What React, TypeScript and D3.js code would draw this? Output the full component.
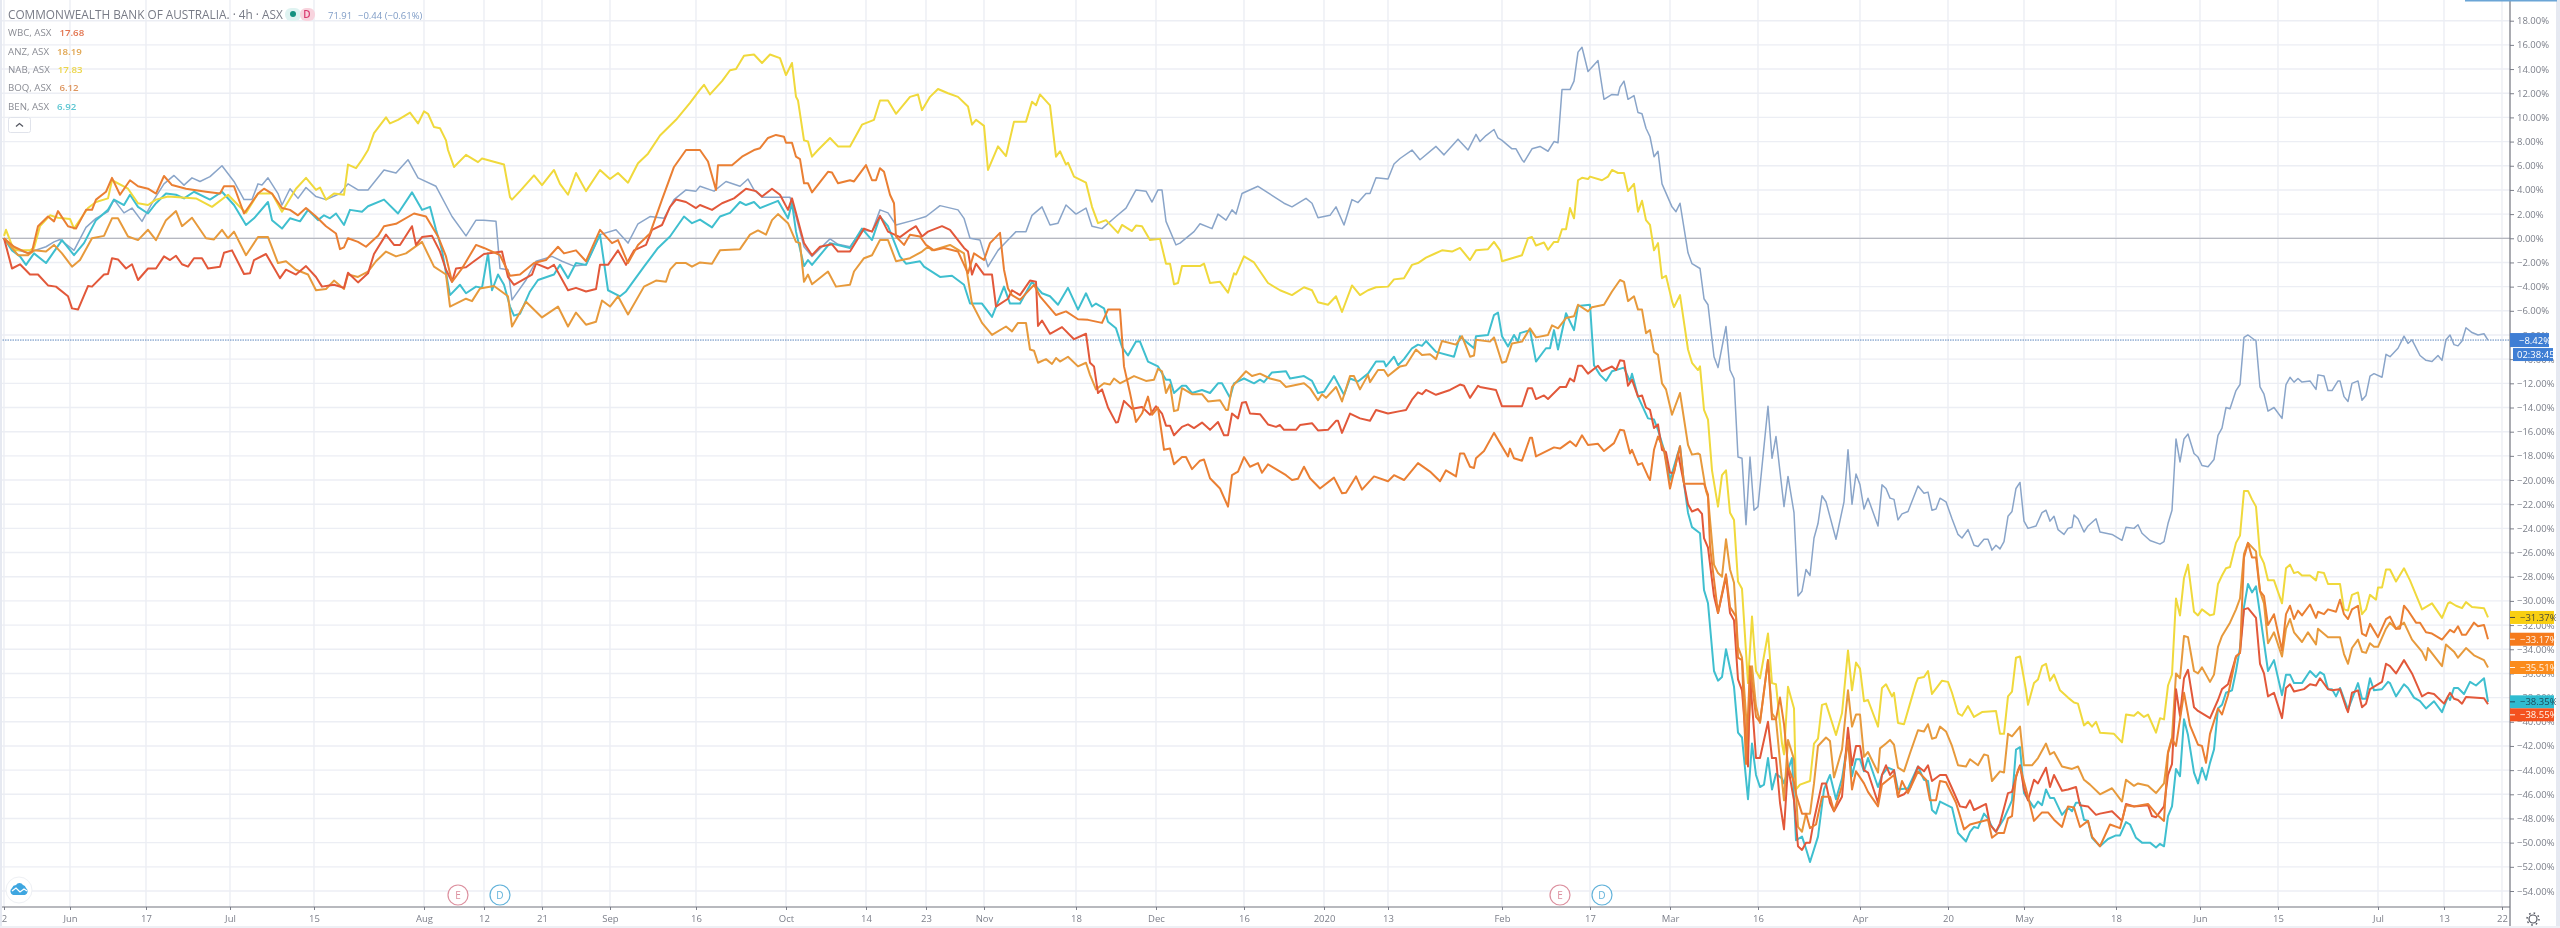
import React, { useRef, useEffect } from "react";
import * as d3 from "d3";

// every point is [half-bar number, % change since start]
const cba = [[2,0],[9,-1],[14,-1.2],[23,-.7],[27,-.3],[30,-.1],[37,-1],[43,.9],[48,1.65],[54,2.2],[57,3.2],[62,2.1],[66,2.5],[71,1.4],[77,3.2],[82,4.5],[87,5.2],[92,4.4],[96,5],[100,4.7],[105,5.1],[111,6],[117,4.7],[122,3.2],[126,3.2],[129,4.5],[131,4.4],[134,5],[139,3.7],[141,2.75],[145,4.1],[149,3.3],[153,4.2],[158,3.45],[163,3.2],[170,3.7],[174,4.5],[179,4],[184,4],[192,5.65],[198,5.4],[204,6.5],[209,5],[218,4.3],[226,1.8],[233,.2],[238,1.5],[242,1.5],[248,1.4],[250,-2.5],[254,-2.6],[256,-5.1],[263,-3.45],[268,-1.9],[276,-1.5],[281,-1.9],[287,-2.3],[293,-2.2],[300,.3],[308,.7],[314,-.4],[319,1.2],[325,1.8],[332,1.65],[337,3.2],[343,4],[348,3.9],[350,4.3],[357,3.9],[363,4.7],[370,4.3],[374,4.9],[377,4],[381,3.4],[388,3.4],[395,3.4],[398,1.8],[402,-.7],[406,-1.5],[415,-.05],[419,-.5],[425,-.7],[431,.7],[436,.55],[440,2.35],[444,2.1],[448,1.1],[457,1.5],[463,1.8],[470,2.7],[479,2.35],[482,1.65],[485,0],[490,-.15],[494,-2.35],[499,-1],[503,-.3],[508,.55],[513,.55],[516,1.9],[521,2.6],[525,1.1],[529,1.25],[533,2.75],[538,2],[543,2.5],[546,1],[551,.8],[558,1.8],[563,2.5],[568,4],[573,3.9],[576,3],[579,4],[581,4],[583,1.4],[588,-.55],[590,-.4],[597,.55],[600,1.2],[606,.8],[609,2],[613,1.5],[616,2.35],[618,2],[621,3.7],[629,4.3],[642,2.9],[646,2.6],[653,3.3],[656,2.9],[659,1.7],[665,1.9],[668,2.6],[672,1.1],[676,3.2],[679,2.95],[683,3.7],[685,3.7],[688,5],[694,4.9],[697,6.15],[700,6.6],[706,7.3],[710,6.5],[718,7.6],[722,6.9],[729,8.2],[734,7.3],[738,8.6],[740,8],[743,8.5],[747,9],[749,8.3],[751,8.1],[756,7.4],[758,7.4],[761,6.5],[762,6.3],[766,7.4],[770,7.6],[774,7.2],[777,8],[779,7.9],[781,12.3],[785,12.3],[787,13],[789,15.4],[791,15.8],[794,13.8],[799,14.7],[802,11.5],[806,11.9],[809,11.85],[810,12.5],[812,13],[814,11.5],[817,11.8],[819,10.4],[821,10.3],[823,9.1],[825,8.4],[827,6.75],[829,7.2],[831,4.5],[836,2.6],[838,2.2],[840,2.9],[844,-1.2],[846,-2.1],[850,-2.5],[852,-5],[854,-5.5],[857,-9.8],[859,-10.7],[863,-7.3],[865,-10.9],[867,-11.6],[869,-18.1],[871,-18.2],[873,-23.7],[875,-18.1],[877,-22.5],[879,-22.2],[884,-13.9],[886,-18.2],[888,-16.4],[892,-22.2],[894,-19.7],[897,-22.7],[899,-29.6],[901,-29.2],[903,-27.4],[905,-27.9],[907,-24.8],[909,-23.6],[911,-21.3],[913,-21.8],[918,-24.9],[922,-21.8],[924,-17.5],[926,-22],[928,-19.5],[930,-20.4],[932,-22.4],[934,-21.5],[939,-23.8],[941,-20.4],[943,-20.7],[945,-21.5],[947,-21.6],[949,-23.3],[951,-22.8],[954,-22.6],[959,-20.5],[962,-21.1],[964,-21],[966,-22.5],[968,-22.4],[970,-21.5],[973,-21.8],[976,-23.2],[979,-24.5],[981,-24.8],[984,-24.1],[987,-25.4],[989,-25.5],[992,-24.9],[994,-24.9],[996,-25.8],[998,-25.4],[1000,-25.7],[1002,-25.1],[1004,-23],[1006,-22.6],[1008,-20.7],[1010,-20.2],[1012,-23.4],[1014,-24],[1018,-23.8],[1021,-22.7],[1023,-22.5],[1025,-23.4],[1027,-23],[1029,-24.1],[1032,-24.5],[1034,-24],[1036,-23.9],[1037,-22.9],[1039,-23.2],[1042,-24.3],[1044,-23.8],[1048,-23.2],[1050,-24.3],[1056,-24.5],[1061,-25],[1063,-23.9],[1067,-24],[1069,-23.7],[1071,-24.4],[1075,-25],[1080,-25.3],[1082,-25.1],[1084,-23.6],[1086,-22.5],[1088,-16.6],[1090,-18.5],[1092,-16.6],[1094,-16.2],[1097,-17.8],[1099,-18.1],[1101,-18.8],[1104,-18.9],[1107,-18.3],[1109,-16.3],[1111,-15.7],[1113,-14],[1115,-14.1],[1118,-12.6],[1120,-12.1],[1122,-8.2],[1124,-8],[1128,-8.5],[1130,-12.3],[1132,-12.9],[1134,-14.3],[1137,-14],[1141,-14.9],[1143,-12.1],[1145,-11.5],[1147,-11.9],[1149,-11.6],[1151,-11.9],[1155,-11.8],[1158,-12.5],[1159,-11.3],[1162,-11.4],[1164,-12.6],[1166,-12.6],[1169,-11.8],[1170,-11.8],[1172,-13.1],[1174,-13.5],[1176,-12],[1179,-11.8],[1181,-13.4],[1183,-13],[1185,-11.4],[1187,-11.2],[1191,-11.5],[1193,-9.6],[1195,-9.8],[1199,-9.1],[1202,-8.1],[1204,-8.7],[1206,-8.4],[1210,-9.7],[1213,-10.1],[1216,-10.2],[1219,-9.7],[1221,-10.1],[1223,-8.4],[1225,-8],[1227,-8.8],[1229,-8.9],[1231,-8.5],[1233,-7.4],[1236,-7.8],[1239,-8],[1242,-7.9],[1244,-8.42]];

const wbc = [[2,0],[6,-2.5],[10,-2.15],[15,-3],[19,-3],[24,-3.9],[28,-4],[34,-4.8],[36,-5.8],[39,-5.9],[44,-3.95],[46,-4],[52,-3],[54,-2.95],[56,-1.65],[59,-1.75],[63,-2.5],[66,-2.15],[69,-3.45],[74,-2.5],[78,-2.5],[82,-1.5],[85,-1.8],[88,-1.45],[91,-2.15],[94,-2.35],[97,-1.65],[101,-1.65],[104,-2.5],[110,-2.35],[112,-1.2],[116,-1],[122,-2.95],[125,-2.9],[127,-1.8],[133,-1.3],[140,-3.3],[143,-2.6],[148,-3],[153,-2.3],[158,-3.2],[161,-4],[167,-3.85],[172,-4.1],[174,-2.85],[179,-3.65],[184,-2.9],[187,-1.3],[193,.3],[197,-.55],[200,-.55],[206,1],[208,-.55],[211,.1],[216,.2],[220,-1.1],[223,-2.6],[226,-3.6],[228,-2.5],[233,-2.4],[237,-1.9],[242,-1.3],[251,-1.1],[254,-3.2],[257,-3.85],[266,-3],[268,-2.1],[274,-2.5],[277,-2.2],[284,-4.3],[288,-4.1],[293,-4.4],[298,-4.2],[300,-2.2],[304,-2.2],[309,-1],[313,-2.2],[317,-1],[323,-.55],[326,.7],[331,1.1],[335,2.6],[338,3.2],[343,3],[348,2.5],[350,2.75],[356,2.35],[361,2.9],[367,3.3],[373,4.1],[378,3.9],[381,3.45],[386,4.1],[390,3.6],[394,2.35],[396,3.3],[398,2.1],[402,-.4],[406,-1.4],[410,-.7],[416,-.5],[419,-1.1],[425,-1.1],[432,.8],[436,.55],[440,1.85],[444,.55],[450,.1],[455,.7],[458,1],[461,.15],[464,.55],[471,1],[475,.7],[482,-.8],[484,-1.1],[486,-3],[488,-2.1],[492,-3],[496,-3],[498,-5.65],[504,-5],[506,-4.3],[510,-4.7],[515,-3.5],[518,-3.6],[519,-7.25],[521,-6.8],[525,-7.9],[531,-7.35],[537,-8.35],[543,-7.9],[545,-10.3],[547,-10.6],[549,-12.8],[551,-12.5],[554,-14],[558,-15.25],[559,-15.2],[562,-13.45],[566,-14.1],[571,-13.95],[575,-14.6],[578,-13.9],[581,-14.5],[583,-15.5],[585,-15.5],[587,-16.3],[591,-15.6],[594,-15.4],[597,-15.7],[601,-15.25],[605,-15.85],[609,-15.2],[612,-16.3],[614,-16.3],[616,-14.5],[619,-14.9],[621,-13.6],[623,-13.55],[625,-14.5],[630,-14.55],[634,-15.4],[638,-15.6],[640,-15.45],[642,-15.85],[648,-15.85],[650,-15.45],[656,-15.3],[659,-15.9],[664,-15.85],[668,-15.1],[669,-15.1],[671,-16.1],[675,-14.5],[680,-14.9],[685,-15.1],[688,-14.2],[694,-14.5],[700,-14.3],[703,-14.2],[706,-13.35],[709,-12.75],[711,-12.9],[713,-12.55],[718,-12.95],[725,-12.55],[730,-12.1],[732,-12.2],[735,-13.2],[739,-12.2],[740,-12.3],[748,-12.55],[751,-13.9],[761,-13.9],[764,-12.4],[766,-12.4],[768,-13.3],[772,-13],[774,-13.3],[777,-12.8],[780,-12.3],[783,-12.3],[785,-11.6],[787,-11.85],[789,-10.55],[791,-10.55],[794,-11.2],[799,-10.55],[801,-11],[806,-10.6],[808,-10.9],[810,-10.1],[812,-10.15],[814,-12.2],[816,-11.7],[819,-13.1],[821,-13],[823,-14],[825,-14.2],[827,-15.7],[829,-15.4],[831,-17.5],[833,-17.7],[835,-19.4],[837,-19.4],[839,-17.8],[842,-20.3],[844,-22],[846,-22.6],[849,-22.4],[851,-22.8],[852,-24.8],[854,-25.6],[857,-29.6],[859,-31],[863,-28],[865,-31],[867,-31.6],[869,-36.5],[871,-37.4],[874,-43.7],[875,-36.2],[878,-43],[880,-43],[884,-40],[886,-43],[888,-43],[890,-46.7],[892,-48.9],[894,-43.7],[897,-46.5],[899,-50.3],[901,-50.6],[903,-50],[905,-50],[907,-48.1],[911,-45.1],[913,-45.1],[915,-46.7],[917,-47.4],[921,-46.2],[924,-40.5],[926,-43.6],[928,-42],[930,-42],[932,-44],[934,-44.2],[939,-46.7],[941,-44.4],[943,-43.6],[945,-44.4],[947,-44],[949,-46.2],[952,-46],[955,-45.5],[959,-43.7],[962,-44.1],[964,-43.6],[966,-44.9],[970,-44.4],[973,-44.4],[976,-45.5],[980,-47],[983,-47.1],[985,-46.5],[987,-47.3],[993,-46.8],[995,-48.5],[998,-49.1],[1000,-48.4],[1004,-45.9],[1006,-45.8],[1009,-44],[1010,-43.6],[1012,-45.6],[1014,-46.5],[1017,-44.8],[1019,-45.1],[1023,-43.8],[1025,-45.4],[1027,-44.4],[1031,-45.7],[1034,-45.6],[1038,-45.4],[1040,-46.9],[1044,-47],[1048,-47.7],[1050,-47.6],[1056,-47.4],[1061,-48.2],[1063,-46.8],[1067,-47],[1074,-46.9],[1076,-47.8],[1078,-47.9],[1082,-47],[1084,-44.4],[1086,-43.5],[1088,-37.3],[1090,-39.5],[1092,-36.4],[1094,-35.7],[1097,-38.8],[1099,-39.1],[1105,-39.7],[1109,-38.2],[1111,-37.3],[1114,-36.9],[1118,-34.6],[1120,-34.3],[1122,-30.7],[1124,-30.6],[1128,-31.4],[1130,-35.2],[1132,-36],[1134,-37.9],[1137,-37.6],[1141,-39.7],[1143,-37.2],[1145,-36.9],[1147,-37.5],[1152,-37.3],[1155,-36.9],[1158,-37],[1160,-36.4],[1164,-37.3],[1166,-37.4],[1170,-37.3],[1173,-38.8],[1174,-39.2],[1176,-37.6],[1179,-37.4],[1181,-38.8],[1183,-38.5],[1185,-37.3],[1191,-36.7],[1193,-35.2],[1195,-35.4],[1198,-36],[1202,-34.9],[1206,-36],[1211,-37.9],[1214,-37.6],[1217,-37.7],[1222,-38.5],[1225,-37.6],[1227,-38.1],[1229,-38.2],[1231,-38.5],[1233,-37.95],[1242,-38.05],[1244,-38.55]];

const anz = [[2,0],[9,-1.4],[14,-1.4],[17,-1],[23,-1.1],[27,-.55],[31,-1.25],[36,-2.35],[40,-1.8],[46,0],[52,.2],[56,1.65],[59,1.65],[64,.15],[69,-.15],[74,.7],[78,-.15],[83,1.5],[88,2.25],[91,1],[96,1.7],[103,0],[107,-.1],[111,.7],[114,0],[117,.55],[123,-1.4],[129,.1],[134,.1],[139,-2.05],[143,-1.9],[148,-2.6],[154,-3],[158,-4.3],[163,-4.2],[167,-3.5],[172,-4.2],[174,-3],[179,-3.2],[184,-2.75],[188,-1.9],[193,-1.1],[198,-1.5],[203,-1.25],[211,-.3],[217,-2.35],[223,-3],[225,-5.65],[233,-5],[236,-5.2],[240,-4.15],[247,-3.95],[254,-4.8],[256,-7.3],[263,-5.25],[271,-6.55],[279,-5.65],[284,-7.3],[288,-6.15],[293,-7.15],[298,-6.9],[301,-5.15],[305,-5.65],[309,-4.8],[314,-6.3],[322,-4],[328,-3.5],[333,-3.6],[335,-2.6],[338,-2.05],[343,-2.05],[346,-2.35],[350,-2],[356,-2.1],[360,-1],[370,-.9],[375,.3],[379,.65],[383,.3],[386,1.5],[389,2],[394,1.25],[398,-.3],[400,-.4],[402,-3.6],[404,-3],[406,-3.8],[414,-2.75],[418,-4],[425,-3.85],[427,-2.75],[432,-1.65],[436,-1.4],[440,-.15],[444,-.15],[448,-1.9],[455,-1.65],[461,-1.1],[464,-.7],[466,-1],[475,-.55],[482,-1.25],[486,-5.4],[491,-7],[496,-8],[503,-7.3],[506,-7.7],[509,-7],[513,-7],[515,-9.2],[517,-9.3],[519,-10.3],[523,-10],[526,-10.4],[528,-9.9],[530,-10.2],[534,-9.8],[539,-10.6],[543,-10.3],[545,-11.3],[548,-12.5],[552,-12],[555,-12.1],[557,-11.6],[560,-12],[567,-11.4],[573,-11.8],[577,-11.7],[579,-10.8],[581,-11],[583,-12.8],[585,-12.1],[587,-14.3],[589,-14.2],[591,-12.4],[596,-12.9],[601,-12.9],[604,-13.5],[610,-13.4],[613,-14.2],[614,-14.2],[616,-12.3],[623,-11],[626,-11.4],[630,-11.2],[635,-11.6],[640,-11.8],[643,-12.3],[652,-12],[655,-12.4],[659,-13.4],[661,-12.9],[663,-13.2],[668,-12.3],[671,-13.5],[675,-11.4],[677,-11.4],[680,-12.5],[684,-11.3],[685,-11.9],[689,-10.9],[692,-10.9],[694,-11.4],[700,-10.6],[703,-10.5],[708,-9.2],[711,-9.65],[715,-9.6],[718,-10],[721,-8.5],[728,-8.8],[731,-8.1],[735,-9.8],[737,-9.7],[738,-8.4],[745,-8.55],[747,-8.2],[751,-10.3],[753,-10.2],[756,-8.7],[761,-8.55],[765,-7.45],[768,-8.2],[774,-8],[776,-7.2],[779,-7.45],[783,-6.6],[787,-6.45],[789,-5.5],[794,-6.05],[796,-5.7],[802,-5.5],[806,-4.4],[810,-3.45],[812,-3.6],[814,-5.2],[817,-4.8],[819,-5.9],[821,-5.9],[823,-7.85],[825,-7.6],[827,-9.4],[829,-9.65],[831,-12],[833,-12.5],[836,-14.6],[840,-12.8],[844,-17.1],[846,-17.9],[849,-17.8],[850,-17.9],[853,-20.9],[854,-21.4],[857,-27],[859,-27.7],[861,-28],[863,-24.9],[865,-27.4],[867,-28.5],[869,-33.8],[871,-34.7],[874,-41.8],[876,-35.4],[878,-38.7],[880,-40.1],[884,-34.9],[886,-39.3],[888,-39.8],[890,-43.3],[892,-46.5],[894,-41.5],[897,-43.1],[899,-48.7],[901,-49.1],[903,-47.6],[905,-47.6],[907,-45.1],[909,-42],[913,-41.3],[915,-41.6],[917,-44.6],[921,-42.3],[924,-37.4],[926,-40.4],[928,-39.4],[930,-39.4],[932,-42.9],[934,-42.5],[939,-44.2],[940,-42.2],[943,-41.8],[945,-41.5],[947,-41.9],[949,-43.8],[952,-44.1],[955,-42.6],[959,-40.7],[962,-40.8],[964,-40.2],[966,-41.4],[968,-41.3],[970,-40.4],[973,-40.8],[976,-42],[979,-43.6],[983,-43.7],[985,-43.1],[989,-43.6],[992,-42.7],[994,-42.8],[996,-44.9],[1000,-44.1],[1002,-44.2],[1004,-41],[1006,-41.2],[1010,-40.4],[1012,-43.6],[1016,-43.6],[1019,-43],[1023,-41.8],[1025,-42.7],[1027,-42.5],[1031,-43.7],[1036,-43.9],[1039,-43.7],[1042,-44.8],[1045,-45.2],[1050,-46],[1056,-45.5],[1061,-46.6],[1063,-44.8],[1067,-45.3],[1069,-45.1],[1074,-45.3],[1078,-45.9],[1082,-45.1],[1084,-42.5],[1086,-41.3],[1088,-36],[1090,-36.4],[1092,-32.9],[1094,-33],[1097,-35.8],[1099,-36],[1101,-35.5],[1105,-36.7],[1107,-36.1],[1109,-33.8],[1111,-32.9],[1115,-31.8],[1118,-30.7],[1120,-29.8],[1122,-26.1],[1124,-25.2],[1128,-25.9],[1130,-29.2],[1132,-30.2],[1134,-33.5],[1137,-32.6],[1141,-34.6],[1143,-32.3],[1145,-31.5],[1147,-32.6],[1151,-33.4],[1154,-32.6],[1158,-33.6],[1159,-32.3],[1164,-33],[1170,-33],[1172,-34.4],[1174,-35.2],[1176,-33.9],[1179,-33.2],[1181,-34.2],[1183,-34.3],[1185,-33.5],[1187,-33.8],[1189,-33.8],[1193,-32.3],[1195,-31.8],[1198,-32.3],[1202,-31.8],[1206,-33.2],[1211,-34.2],[1213,-34.9],[1214,-33.9],[1221,-35.4],[1223,-33.6],[1227,-34.2],[1229,-34.7],[1233,-33.9],[1237,-34.5],[1242,-34.9],[1244,-35.51]];

const nab = [[2,.2],[3,.7],[6,-.6],[8,-1],[15,-1],[17,-.8],[20,1],[25,1.9],[29,1.7],[35,1.6],[37,.8],[44,2.5],[48,3],[54,3.3],[56,4.8],[64,4.1],[69,2.9],[74,2.75],[78,3.2],[84,3.45],[98,3.3],[106,2.6],[114,3.6],[119,2.75],[123,2.1],[129,3.7],[136,3.7],[141,2.2],[148,4.1],[153,5],[158,4],[160,4.2],[163,3.2],[167,3.7],[172,3.6],[174,6.1],[178,5.8],[181,6.5],[184,7.3],[187,8.7],[193,10],[195,9.5],[199,9.8],[205,10.4],[209,9.5],[212,10.5],[214,10.3],[217,9.2],[220,9.1],[223,8.1],[224,7.3],[227,5.9],[233,6.9],[239,6.3],[241,6.6],[252,6.1],[255,3.4],[256,3.2],[260,3.9],[267,5.2],[271,4.4],[277,5.65],[280,4.5],[284,3.6],[288,5.4],[293,3.9],[300,5.65],[305,4.9],[309,5.4],[314,4.6],[319,6.2],[324,7],[330,8.5],[338,9.8],[345,11.2],[350,12.3],[352,12.7],[355,11.9],[361,13],[365,13.9],[368,14],[372,15.1],[377,15.2],[381,14.5],[385,15.2],[390,14.9],[393,13.5],[396,14.5],[398,11.7],[399,11.4],[402,8.1],[404,8],[406,6.75],[409,7.3],[415,8.3],[419,7.6],[425,7.6],[431,9.4],[437,9.8],[440,11.4],[444,11.4],[448,10.3],[455,11.7],[459,11.9],[461,10.6],[465,11.7],[469,12.35],[474,12],[479,11.7],[484,10.9],[486,9.4],[488,9.8],[492,9.3],[494,5.65],[499,7.6],[503,6.8],[507,9.65],[513,9.65],[516,11.3],[518,11],[520,11.9],[525,11],[528,6.75],[530,7.2],[533,6.1],[534,6.25],[537,5.1],[543,4.6],[546,2.6],[549,1.25],[553,1.5],[559,.45],[561,1.1],[566,.6],[568,1.05],[571,1],[575,-.15],[580,-.05],[583,-2.1],[585,-2.1],[587,-3.8],[589,-3.7],[591,-2.3],[600,-2.3],[602,-2.1],[605,-3.7],[610,-3.6],[614,-4.5],[617,-2.9],[618,-3],[622,-1.5],[627,-2],[634,-3.7],[640,-4.3],[646,-4.7],[652,-4.05],[656,-4.3],[659,-5.3],[664,-5.5],[668,-4.8],[671,-6.1],[676,-3.9],[680,-4.7],[684,-4.3],[688,-4.05],[694,-4],[697,-3.4],[702,-3.3],[706,-2.2],[709,-2.05],[713,-1.6],[717,-1.3],[721,-1],[726,-1.1],[730,-.8],[735,-1.8],[738,-1],[744,-.9],[747,-.3],[750,-1],[751,-1.9],[761,-1.4],[764,0],[766,.1],[768,-.6],[772,-.35],[774,-.95],[777,-.3],[779,-.3],[781,.75],[783,.75],[785,2.5],[787,1.65],[789,4.8],[791,5],[794,4.9],[795,5.1],[801,4.8],[804,5.1],[806,5.65],[809,5.4],[812,5.4],[814,3.9],[817,4.5],[819,2.2],[821,3.1],[823,1.5],[825,1.1],[827,-1],[829,-.4],[831,-3.3],[833,-3.1],[836,-5.2],[837,-5.7],[840,-4.7],[844,-9.2],[846,-10.3],[849,-10.9],[850,-10.6],[852,-14.2],[854,-15],[856,-19.2],[859,-22.2],[861,-19.6],[863,-19.2],[865,-22.7],[867,-23.3],[869,-28.4],[871,-29],[874,-36.8],[876,-31.3],[878,-35.8],[880,-36.4],[884,-32.7],[886,-36.8],[888,-36.9],[891,-41.8],[892,-42.7],[894,-37.1],[897,-38.9],[898,-45.6],[900,-45.2],[905,-44.9],[907,-41.8],[909,-41.4],[911,-38.6],[913,-38.5],[918,-41.1],[921,-39.3],[924,-34.1],[926,-37.4],[928,-35.1],[930,-35.6],[932,-38.3],[934,-38.2],[939,-40.4],[941,-37.2],[943,-36.9],[946,-37.9],[947,-37.6],[949,-40.1],[952,-40.2],[955,-38.5],[958,-36.8],[959,-36.4],[962,-36.3],[964,-35.8],[966,-37.7],[971,-36.6],[974,-36.7],[976,-37.6],[979,-39.3],[981,-39.5],[984,-38.7],[987,-39.6],[991,-39.2],[998,-39.1],[1000,-41],[1002,-41],[1004,-37.9],[1006,-37.5],[1008,-34.7],[1010,-34.6],[1013,-37.4],[1014,-38.6],[1017,-36.8],[1019,-36.5],[1021,-35.4],[1023,-35.2],[1025,-36.6],[1027,-36.1],[1030,-37.4],[1034,-38],[1037,-38.4],[1039,-38.5],[1042,-40.3],[1044,-40],[1046,-40.4],[1048,-40],[1050,-40.9],[1057,-41],[1061,-41.7],[1063,-39.4],[1067,-39.5],[1069,-39.2],[1072,-39.6],[1074,-39.4],[1078,-40.9],[1080,-39.7],[1082,-39.8],[1084,-37],[1086,-36.1],[1088,-29.8],[1090,-31.2],[1092,-28.1],[1094,-27],[1097,-30.9],[1099,-31.2],[1101,-30.7],[1105,-31.2],[1107,-31.1],[1109,-28.6],[1111,-27.9],[1113,-27.3],[1115,-27.2],[1118,-25.2],[1120,-24.6],[1122,-20.9],[1124,-20.9],[1126,-21.6],[1128,-22.2],[1130,-26.2],[1132,-26.9],[1134,-28.3],[1137,-28.3],[1141,-30.2],[1143,-27.3],[1145,-27],[1147,-27.7],[1149,-27.6],[1151,-27.9],[1155,-27.9],[1158,-28.3],[1159,-27.6],[1162,-27.7],[1164,-28.6],[1170,-28.6],[1172,-30.7],[1174,-30.8],[1176,-29.5],[1179,-29.3],[1181,-31.1],[1183,-30.7],[1185,-29.5],[1188,-29.9],[1189,-28.9],[1191,-28.9],[1193,-27.4],[1195,-27.4],[1198,-28.4],[1202,-27.3],[1205,-28.3],[1208,-29.5],[1211,-30.7],[1216,-30.2],[1221,-31.4],[1224,-30.2],[1225,-30.1],[1228,-30.4],[1231,-30.6],[1233,-30.1],[1236,-30.5],[1242,-30.6],[1244,-31.37]];

const boq = [[2,0],[7,-.7],[14,-1.25],[16,-1.1],[19,1],[24,1.8],[27,1.4],[29,2.25],[34,1],[38,.8],[43,2.35],[46,2.35],[48,3.2],[53,3.85],[56,5],[60,3.6],[65,4.8],[69,4.3],[74,4.1],[78,3.7],[82,5.15],[86,4.4],[93,4.1],[103,3.85],[110,3.7],[112,4.3],[117,4.3],[122,2.05],[129,3.7],[132,4.1],[136,3.7],[141,2.5],[145,2.35],[149,1.9],[153,2.5],[158,1.8],[163,1],[168,.4],[170,-.9],[172,-.75],[174,0],[179,-.3],[183,-.7],[189,.2],[192,1],[198,1.2],[207,2.05],[213,1.8],[219,.15],[223,-1.5],[226,-3.6],[231,-2.5],[238,-.55],[242,-.8],[250,-1.4],[255,-3.1],[260,-3],[267,-2.05],[273,-1.8],[279,-.7],[282,-1.25],[288,-1],[293,-1.9],[300,.7],[306,-.4],[309,-.15],[314,-2.05],[319,-.55],[325,.4],[331,3.2],[337,5.9],[343,7.3],[350,7.3],[354,6.35],[358,4],[359,6.05],[366,6.05],[371,6.75],[377,7.3],[380,7.45],[384,8.3],[388,8.55],[392,8.4],[393,7.9],[396,7.9],[398,6.75],[400,6.55],[402,4.55],[404,4.55],[406,3.8],[414,5.5],[416,5.45],[419,4.55],[425,4.8],[427,4.7],[433,6.05],[436,4.8],[438,4.8],[440,5.8],[442,5.5],[445,3.6],[447,2.9],[448,.15],[452,-.55],[455,.3],[460,.15],[463,-.55],[467,-1],[472,-.8],[479,-1.1],[484,-2.9],[487,-1.25],[492,-1.8],[495,-.4],[500,.45],[502,-2.6],[504,-4.15],[506,-4.7],[510,-5.1],[517,-3.85],[520,-4.8],[528,-6.35],[533,-6.05],[539,-6.7],[544,-6.75],[551,-7],[554,-5.9],[560,-5.9],[562,-10.6],[565,-12.8],[568,-15.2],[571,-14.5],[574,-13.1],[576,-14.6],[579,-14],[582,-17.5],[585,-17.4],[587,-18.7],[591,-18.1],[593,-18.1],[596,-19.1],[600,-18.4],[602,-18.3],[605,-19.85],[610,-20.7],[614,-22.2],[616,-19.6],[619,-19.3],[622,-18.1],[625,-18.9],[629,-18.6],[631,-19.4],[634,-18.7],[643,-19.6],[646,-20],[649,-19.9],[652,-18.9],[655,-19.85],[660,-20.7],[667,-19.8],[671,-21.1],[673,-21.05],[678,-19.7],[681,-20.8],[687,-19.7],[694,-20.1],[697,-19.6],[702,-20],[709,-18.6],[715,-19.3],[720,-20.1],[723,-19.2],[728,-19.7],[730,-17.8],[732,-17.8],[735,-18.9],[737,-19],[738,-18.2],[742,-17.6],[747,-16.1],[754,-18.05],[755,-17.4],[757,-18.2],[761,-18.4],[765,-16.5],[766,-16.5],[768,-18.05],[777,-17.3],[780,-17.4],[785,-16.8],[788,-17.2],[791,-16.3],[794,-17.1],[799,-17],[802,-17.6],[807,-16.95],[810,-15.85],[812,-15.9],[815,-17.8],[816,-17.5],[819,-18.75],[821,-18.6],[824,-19.7],[825,-20],[827,-17.5],[829,-16.4],[832,-17.5],[835,-20.7],[840,-17.2],[842,-20.3],[852,-20.3],[854,-21.2],[855,-25.5],[859,-31],[863,-27.8],[865,-30.5],[868,-31.3],[869,-34.7],[871,-34.9],[873,-43.5],[875,-35.4],[878,-39.6],[880,-40],[884,-34.9],[886,-39.8],[888,-39.8],[890,-38],[892,-40.2],[894,-43.7],[897,-45],[898,-46],[901,-47.6],[903,-47.6],[905,-48.8],[908,-48.5],[911,-46.2],[915,-46.2],[917,-47.4],[921,-45.3],[924,-41.5],[926,-45.6],[928,-44.1],[932,-45.1],[934,-45.8],[939,-47],[941,-45.2],[947,-44.4],[949,-46.2],[951,-44.9],[954,-45.9],[959,-44.1],[963,-44.8],[965,-46.5],[968,-46.5],[970,-44.9],[973,-45],[978,-46.7],[982,-48.9],[985,-48.5],[994,-48.1],[996,-49.6],[999,-49.2],[1002,-49.2],[1004,-48],[1006,-47.8],[1008,-44.5],[1010,-43.7],[1014,-46.2],[1017,-48.2],[1021,-47.5],[1024,-47.5],[1027,-48.1],[1031,-48.7],[1034,-47],[1037,-47.1],[1040,-48.7],[1044,-48.2],[1046,-49.5],[1050,-50.3],[1055,-48.5],[1060,-48.8],[1063,-46.9],[1067,-47],[1074,-46.8],[1078,-47.6],[1082,-48.2],[1084,-42.6],[1086,-41.4],[1088,-42],[1092,-37.6],[1095,-40.3],[1099,-41.9],[1101,-42],[1103,-43.4],[1105,-41],[1109,-38.9],[1111,-39.4],[1114,-37.8],[1118,-34.6],[1120,-34.3],[1122,-26.4],[1124,-25.2],[1126,-26.4],[1128,-26.4],[1130,-29.2],[1132,-29.6],[1134,-32],[1137,-31.1],[1141,-34.1],[1143,-31.1],[1145,-30.4],[1147,-31.5],[1149,-30.8],[1151,-31.2],[1155,-30.3],[1158,-31.4],[1159,-30.9],[1162,-31.1],[1164,-30.7],[1168,-30.9],[1170,-29.9],[1172,-31.1],[1174,-31.5],[1176,-30.7],[1179,-30.4],[1181,-32.7],[1183,-32.9],[1185,-31.9],[1189,-33],[1193,-31.5],[1195,-31.3],[1198,-32.3],[1200,-32.3],[1202,-30.4],[1204,-30.8],[1208,-31.8],[1210,-31.8],[1213,-32.6],[1216,-32.7],[1221,-33.2],[1225,-32.4],[1227,-32.6],[1229,-32.1],[1231,-32.8],[1233,-32.8],[1237,-31.8],[1239,-32.1],[1242,-32],[1244,-33.17]];

const ben = [[2,0],[6,-1],[10,-1.5],[13,-2.2],[17,-1.25],[23,-2.05],[27,-1.1],[31,-.15],[37,-1.4],[42,-.4],[48,1.5],[54,2.35],[57,3.2],[62,2.75],[65,3.6],[69,2.6],[74,2.05],[78,2.9],[83,3.7],[88,3.6],[92,3.3],[97,3.85],[105,3.2],[111,3.85],[117,2.75],[123,1.1],[127,1.65],[134,3],[136,1.5],[141,.8],[145,1.65],[150,1.4],[154,2.35],[159,1.5],[162,1.9],[165,1.65],[168,2.05],[172,1.1],[175,2.35],[181,2.2],[184,2.65],[192,3.2],[199,2.05],[206,3.8],[211,2.35],[215,2.6],[218,.7],[221,-1],[225,-4.7],[230,-3.85],[233,-4.55],[238,-4],[241,-4.1],[244,-1.25],[246,-4.3],[249,-3],[252,-3.85],[255,-5.65],[257,-6.4],[260,-6.25],[265,-4.4],[269,-3.45],[277,-3],[280,-2.2],[284,-3.3],[288,-2.05],[293,-2.2],[300,.3],[304,-4.3],[310,-4.8],[313,-4.4],[322,-2.35],[329,-.8],[335,.15],[342,1.8],[346,1.25],[350,1.55],[356,.9],[360,1.8],[365,2.1],[370,3],[373,2.75],[377,3],[380,2.5],[389,3.1],[394,1.65],[396,2.9],[398,.55],[402,-2.3],[404,-1.8],[406,-2.2],[412,-1],[415,-.4],[419,-.55],[425,-.8],[431,.8],[436,-.15],[440,1.8],[444,1],[450,-1.5],[453,-2.1],[460,-1.9],[462,-2.35],[470,-3.2],[476,-3.1],[482,-3.85],[485,-5.4],[491,-5.4],[496,-6.5],[502,-4],[505,-5.4],[510,-5.4],[516,-3.6],[521,-4.55],[525,-4.8],[529,-5.5],[534,-4.1],[539,-5.9],[543,-4.55],[546,-5.65],[548,-5.4],[552,-5.8],[554,-6.9],[558,-7.45],[561,-9],[564,-9.7],[568,-8.55],[570,-8.55],[574,-10.2],[579,-10.6],[583,-11.7],[585,-11.7],[587,-12.8],[591,-12.2],[593,-12.2],[596,-12.8],[601,-12.55],[605,-12.8],[609,-12],[611,-12],[615,-13.2],[617,-12],[622,-11.6],[627,-12],[630,-11.7],[632,-11.9],[636,-11.1],[643,-11],[645,-11.6],[652,-11.4],[656,-11.8],[659,-12.8],[662,-12.7],[667,-11.4],[672,-12.95],[675,-11.6],[679,-11.85],[684,-11.2],[688,-10.2],[692,-10.2],[693,-10.6],[697,-9.8],[699,-10.5],[702,-10],[706,-9.1],[709,-8.8],[711,-8.9],[713,-8.5],[718,-9.4],[727,-9.8],[730,-8.1],[733,-8.55],[737,-9.1],[738,-8.1],[744,-8],[747,-6.35],[749,-6.15],[751,-8.1],[754,-8.95],[757,-8],[759,-8.55],[760,-7.85],[765,-7.6],[768,-10.2],[773,-9.1],[775,-9.1],[777,-7.6],[779,-9.2],[783,-6.2],[787,-7.6],[789,-5.6],[795,-5.5],[797,-10.5],[800,-11.3],[803,-11.8],[806,-11],[812,-10.7],[815,-11.85],[816,-11.2],[819,-13.1],[824,-14.9],[827,-15],[829,-15.85],[832,-17.5],[835,-20],[840,-17.2],[842,-20.3],[844,-22.7],[846,-23.9],[850,-24.4],[852,-29.1],[854,-30.2],[857,-35.8],[859,-36.6],[861,-36.3],[863,-34],[867,-37.1],[869,-40.9],[871,-41.3],[874,-46.4],[876,-41.8],[878,-44.4],[880,-45.4],[882,-45.2],[884,-43],[886,-45.6],[888,-44.3],[891,-44.7],[892,-45.1],[894,-44],[896,-43],[898,-49.8],[901,-49.5],[903,-50.5],[905,-51.6],[909,-49.5],[912,-45.6],[915,-44.4],[918,-46.4],[921,-44.7],[924,-41.5],[926,-44.5],[928,-43.1],[930,-43.1],[932,-44.1],[934,-43],[939,-45.4],[941,-44.4],[944,-43.8],[947,-44],[949,-45.6],[954,-45.5],[959,-43.7],[962,-44.8],[964,-44.9],[966,-47.3],[968,-47.6],[970,-46.6],[976,-47.1],[979,-49.2],[983,-49.9],[985,-49.1],[987,-48.7],[989,-48.8],[992,-47.6],[994,-48],[996,-48.7],[998,-49.1],[1002,-48],[1006,-46.5],[1008,-42.3],[1010,-42.1],[1012,-45.9],[1017,-47.1],[1019,-46.6],[1021,-46.9],[1023,-45.6],[1025,-46.3],[1027,-46.3],[1031,-47.7],[1034,-47.1],[1036,-47.4],[1038,-46.7],[1040,-46.7],[1042,-48.1],[1044,-48.2],[1046,-49.6],[1050,-50.3],[1054,-49.7],[1058,-49.4],[1060,-49.4],[1063,-48.3],[1065,-48.5],[1068,-49.6],[1071,-50],[1075,-50],[1078,-50.4],[1080,-50.1],[1082,-50.3],[1084,-47.8],[1086,-47],[1088,-43.9],[1090,-44.5],[1092,-39.8],[1094,-41.1],[1097,-44.2],[1099,-45.1],[1101,-43.8],[1103,-44.8],[1105,-43.4],[1107,-42.3],[1109,-38.9],[1111,-38.6],[1113,-37.6],[1116,-37.4],[1118,-35.8],[1120,-33.9],[1122,-30.5],[1124,-28.6],[1126,-29.3],[1128,-28.8],[1130,-31.1],[1134,-35.8],[1137,-34.9],[1141,-37.8],[1143,-36.1],[1145,-36.1],[1147,-36.8],[1151,-36.8],[1155,-35.8],[1158,-36.3],[1160,-35.9],[1162,-36.1],[1164,-37.3],[1166,-37.3],[1168,-37.9],[1170,-37.2],[1174,-39],[1179,-36.8],[1181,-38.1],[1183,-38.1],[1185,-36.4],[1187,-37.4],[1191,-37.3],[1194,-36.7],[1195,-36.8],[1198,-37.9],[1202,-36.9],[1204,-37.2],[1207,-38],[1210,-38.3],[1213,-38.9],[1217,-38.3],[1221,-39.2],[1224,-37.9],[1225,-38.2],[1227,-37.2],[1229,-37.2],[1232,-37.7],[1235,-36.7],[1238,-37],[1242,-36.4],[1244,-38.35]];

const seriesOrder = [cba, ben, nab, anz, wbc, boq];
const seriesColors = ["#8aa5c9", "#3fbfcf", "#f0d93c", "#e79a3c", "#e2583a", "#ea7f33"];
const seriesWidths = [1.5, 2, 2, 2, 2, 2];

const yTicks = d3.range(18, -56, -2);
const xTickBars = [2, 35, 73, 115, 157, 212, 242, 271, 305, 348, 393, 433, 463, 492, 538, 578, 622, 662, 694, 751, 795, 835, 879, 930, 974, 1012, 1058, 1100, 1139, 1189, 1222, 1251];
const xTickLabels = ["2", "Jun", "17", "Jul", "15", "Aug", "12", "21", "Sep", "16", "Oct", "14", "23", "Nov", "18", "Dec", "16", "2020", "13", "Feb", "17", "Mar", "16", "Apr", "20", "May", "18", "Jun", "15", "Jul", "13", "22"];

const legendNames = ["WBC, ASX", "ANZ, ASX", "NAB, ASX", "BOQ, ASX", "BEN, ASX"];
const legendValues = ["17.68", "18.19", "17.83", "6.12", "6.92"];
const legendColors = ["#e2744f", "#e0a54f", "#ecd64a", "#dd9660", "#5cc6d2"];

const badgeValues = [-31.37, -33.17, -35.51, -38.35, -38.55];
const badgeColors = ["#f9cf12", "#f57a1c", "#fb8c1c", "#2fbcd0", "#f4511e"];
const badgeTextColors = ["#4a4a3a", "#fff3e6", "#fff3e6", "#1f4a5a", "#fff3e6"];

const lastPct = -8.42;
const eventBars = [229, 250, 780, 801];
const eventLabels = ["E", "D", "E", "D"];
const eventColors = ["#dc909f", "#62b2da", "#dc909f", "#62b2da"];

const App = () => {
  const chartRef = useRef<SVGSVGElement | null>(null);

  useEffect(() => {
    document.body.style.margin = "0";
    const width = 2560;
    const height = 928;
    const axisX = 2510;
    const axisY = 907;
    const font = "'Open Sans', sans-serif";
    const tickColor = "#7d808b";

    const x = d3.scaleLinear().domain([0, 1244]).range([0, 2488]);
    const y = d3.scaleLinear().domain([18, -54]).range([20.7, 891]);

    const svg = d3.select(chartRef.current);
    svg.append("rect").attr("width", width).attr("height", height).attr("fill", "#fff");

    // grid
    const grid = svg.append("g").attr("stroke", "#eceef4").attr("stroke-width", 1.4);
    grid.selectAll(".h").data(yTicks).enter().append("line")
      .attr("x1", 0).attr("x2", axisX).attr("y1", (d) => y(d)).attr("y2", (d) => y(d));
    grid.selectAll(".v").data(xTickBars).enter().append("line")
      .attr("x1", (d) => x(d)).attr("x2", (d) => x(d)).attr("y1", 0).attr("y2", axisY);

    // zero and last price lines
    svg.append("line").attr("x1", 0).attr("x2", axisX).attr("y1", y(0)).attr("y2", y(0))
      .attr("stroke", "#b6b8c0").attr("stroke-width", 1.2);
    svg.append("line").attr("x1", 0).attr("x2", axisX).attr("y1", y(lastPct)).attr("y2", y(lastPct))
      .attr("stroke", "#5c86bd").attr("stroke-width", 1).attr("stroke-dasharray", "1.5 1");

    // lines
    const line = d3.line<number[]>().x((d) => x(d[0])).y((d) => y(d[1]));
    seriesOrder.forEach((s, i) => {
      svg.append("path").datum(s).attr("d", line).attr("fill", "none")
        .attr("stroke", seriesColors[i]).attr("stroke-width", seriesWidths[i])
        .attr("stroke-linejoin", "round");
    });

    // right axis
    const yAxis = d3.axisRight(y).tickValues(yTicks).tickSize(4).tickPadding(3)
      .tickFormat((d: any) => `${d < 0 ? "\u2212" : ""}${Math.abs(d).toFixed(2)}%`);
    const yG = svg.append("g").attr("transform", `translate(${axisX},0)`).call(yAxis);
    yG.select(".domain").remove();
    yG.selectAll("line").attr("stroke", tickColor);
    yG.selectAll("text").attr("fill", tickColor).style("font-family", font).style("font-size", "9.5px");

    // bottom axis
    const xAxis = d3.axisBottom(x).tickValues(xTickBars).tickSize(3).tickPadding(5)
      .tickFormat((_d: any, i: number) => xTickLabels[i]);
    const xG = svg.append("g").attr("transform", `translate(0,${axisY})`).call(xAxis);
    xG.select(".domain").remove();
    xG.selectAll("line").attr("stroke", tickColor);
    xG.selectAll("text").attr("fill", tickColor).style("font-family", font).style("font-size", "9.5px");

    svg.append("line").attr("x1", 0).attr("x2", axisX).attr("y1", axisY).attr("y2", axisY)
      .attr("stroke", "#72757f").attr("stroke-width", 1.2);
    svg.append("line").attr("x1", axisX).attr("x2", axisX).attr("y1", 0).attr("y2", height)
      .attr("stroke", "#72757f").attr("stroke-width", 1.2);

    // price badges, pushed down when they would overlap
    let prevY = -100;
    badgeValues.forEach((v, i) => {
      const cy = Math.max(y(v), prevY + 13);
      prevY = cy;
      const g = svg.append("g").attr("transform", `translate(${axisX},${cy})`);
      g.append("rect").attr("x", 0).attr("y", -6.5).attr("width", 44).attr("height", 13).attr("fill", badgeColors[i]);
      g.append("line").attr("x1", 0).attr("x2", 5).attr("y1", 0).attr("y2", 0).attr("stroke", badgeTextColors[i]);
      g.append("text").attr("x", 10).attr("y", 3.5).text(`\u2212${Math.abs(v).toFixed(2)}%`)
        .attr("fill", badgeTextColors[i]).style("font-family", font).style("font-size", "9.5px");
    });

    const lastG = svg.append("g").attr("transform", `translate(${axisX},${y(lastPct)})`);
    lastG.append("rect").attr("x", 0).attr("y", -7).attr("width", 39).attr("height", 14).attr("fill", "#3f7ed4");
    lastG.append("text").attr("x", 9).attr("y", 3.5).text(`\u2212${Math.abs(lastPct).toFixed(2)}%`)
      .attr("fill", "#fff").style("font-family", font).style("font-size", "9.5px");
    lastG.append("rect").attr("x", 3).attr("y", 8).attr("width", 40).attr("height", 13).attr("fill", "#3f7ed4");
    lastG.append("text").attr("x", 7).attr("y", 18).text("02:38:45")
      .attr("fill", "#fff").style("font-family", font).style("font-size", "9.5px");

    // legend
    svg.append("text").attr("x", 8).attr("y", 18.5).text("COMMONWEALTH BANK OF AUSTRALIA. · 4h · ASX")
      .attr("fill", "#787b86").style("font-family", font).style("font-size", "11.8px");
    svg.append("rect").attr("x", 285).attr("y", 8).attr("width", 16).attr("height", 13).attr("rx", 6).attr("fill", "#dff3f1");
    svg.append("rect").attr("x", 300).attr("y", 8).attr("width", 15).attr("height", 13).attr("rx", 6).attr("fill", "#f8d4de");
    svg.append("circle").attr("cx", 293).attr("cy", 14).attr("r", 3).attr("fill", "#13917f");
    svg.append("text").attr("x", 307).attr("y", 18).attr("text-anchor", "middle").text("D")
      .attr("fill", "#d9396f").style("font-family", font).style("font-size", "10px").style("font-weight", 600);
    svg.append("text").attr("x", 328).attr("y", 18.5).text("71.91")
      .attr("fill", "#7f9cc6").style("font-family", font).style("font-size", "9.5px");
    svg.append("text").attr("x", 358).attr("y", 18.5).text("\u22120.44 (\u22120.61%)")
      .attr("fill", "#7f9cc6").style("font-family", font).style("font-size", "9.5px");

    legendNames.forEach((name, i) => {
      const rowY = 36.2 + i * 18.4;
      const label = svg.append("text").attr("x", 8).attr("y", rowY).text(name)
        .attr("fill", "#8a8c94").style("font-family", font).style("font-size", "9.7px");
      const w = (label.node() as SVGTextElement).getComputedTextLength();
      svg.append("text").attr("x", 8 + w + 8).attr("y", rowY).text(legendValues[i])
        .attr("fill", legendColors[i]).style("font-family", font).style("font-size", "9.7px").style("font-weight", 600);
    });
    svg.append("rect").attr("x", 8.5).attr("y", 117.5).attr("width", 22).attr("height", 15).attr("rx", 2)
      .attr("fill", "#fff").attr("stroke", "#e0e3eb");
    svg.append("path").attr("d", d3.line()([[16, 126.5], [19.5, 123.5], [23, 126.5]]))
      .attr("fill", "none").attr("stroke", "#555862").attr("stroke-width", 1.3);

    // earnings and dividend markers
    eventBars.forEach((b, i) => {
      svg.append("circle").attr("cx", x(b)).attr("cy", 895).attr("r", 10)
        .attr("fill", "#fff").attr("stroke", eventColors[i]).attr("stroke-width", 1.2);
      svg.append("text").attr("x", x(b)).attr("y", 898.5).attr("text-anchor", "middle").text(eventLabels[i])
        .attr("fill", eventColors[i]).style("font-family", font).style("font-size", "10px");
    });

    // logo
    svg.append("circle").attr("cx", 19).attr("cy", 890).attr("r", 13).attr("fill", "#fff").attr("stroke", "#eef0f4");
    svg.append("path").attr("d", "M13 895 a4 4 0 0 1 -1-7 a4.5 4.5 0 0 1 4-3 a4 4 0 0 1 7 0 a4.5 4.5 0 0 1 3 3 a4 4 0 0 1 -1 7 z").attr("fill", "#3ea6e0");
    svg.append("path").attr("d", "M12 891 l4-3 l4 4 l4-3 l3 2").attr("fill", "none").attr("stroke", "#fff").attr("stroke-width", 1.3);

    // settings gear
    svg.append("circle").attr("cx", 2533).attr("cy", 919).attr("r", 4).attr("fill", "none").attr("stroke", "#50535e").attr("stroke-width", 1.2);
    svg.append("circle").attr("cx", 2533).attr("cy", 919).attr("r", 6).attr("fill", "none").attr("stroke", "#50535e").attr("stroke-width", 1.4).attr("stroke-dasharray", "1.6 3.1");

    // window chrome
    svg.append("rect").attr("x", 0).attr("y", 0).attr("width", 2).attr("height", height).attr("fill", "#e6e9f1");
    svg.append("rect").attr("x", 2556).attr("y", 0).attr("width", 4).attr("height", height).attr("fill", "#e6e9f1");
    svg.append("rect").attr("x", 0).attr("y", 926).attr("width", width).attr("height", 2).attr("fill", "#eef0f5");
    svg.append("rect").attr("x", 2465).attr("y", 0).attr("width", 92).attr("height", 1.5).attr("fill", "#6ba5d6");

    return () => {
      if (chartRef.current) chartRef.current.innerHTML = "";
    };
  }, []);

  return (
    <svg
      ref={chartRef}
      width={2560}
      height={928}
      style={{ position: "absolute", left: 0, top: 0, display: "block", filter: "blur(0.45px)" }}
    />
  );
};

export default App;
